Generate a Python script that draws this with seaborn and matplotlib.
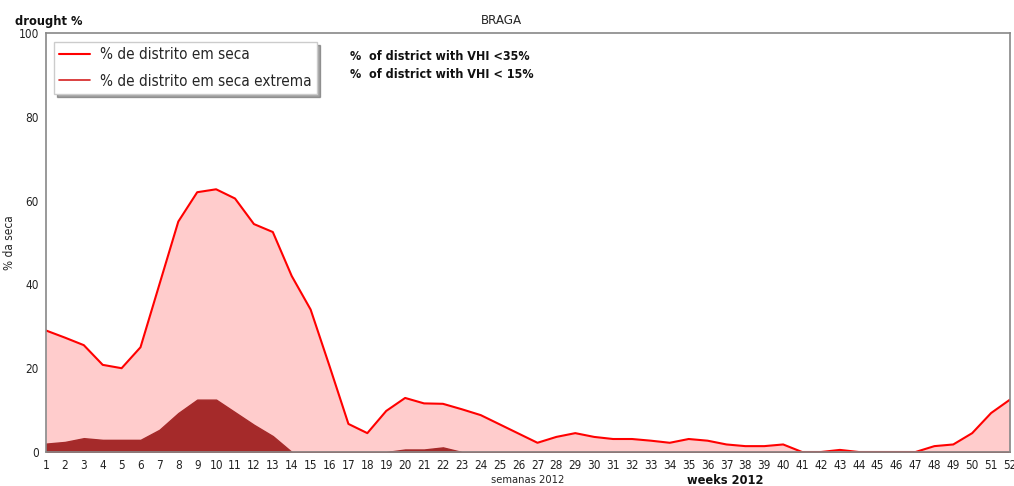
import numpy as np
import pandas as pd
import matplotlib
matplotlib.use("Agg")
import matplotlib.pyplot as plt
import seaborn as sns

weeks = list(range(1, 53))
drought = [29.0, 27.3, 25.5, 20.8, 20.0, 25.0, 40.0, 55.0, 62.0, 62.7,
           60.5, 54.4, 52.5, 42.0, 34.0, 20.5, 6.7, 4.5, 9.8, 12.9,
           11.6, 11.5, 10.2, 8.8, 6.6, 4.4, 2.2, 3.6, 4.5, 3.6,
           3.1, 3.1, 2.7, 2.2, 3.1, 2.7, 1.8, 1.4, 1.4, 1.8,
           0.0, 0.0, 0.5, 0.0, 0.0, 0.0, 0.0, 1.4, 1.8, 4.5,
           9.3, 12.5]
extreme = [2.0, 2.4, 3.3, 2.9, 2.9, 2.9, 5.3, 9.3, 12.5, 12.5,
           9.5, 6.5, 3.8, 0.0, 0.0, 0.0, 0.0, 0.0, 0.0, 0.6,
           0.6, 1.1, 0.0, 0.0, 0.0, 0.0, 0.0, 0.0, 0.0, 0.0,
           0.0, 0.0, 0.0, 0.0, 0.0, 0.0, 0.0, 0.0, 0.0, 0.0,
           0.0, 0.0, 0.0, 0.0, 0.0, 0.0, 0.0, 0.0, 0.0, 0.0,
           0.0, 0.0]
yticks = [0, 20, 40, 60, 80, 100]

df = pd.DataFrame({"week": weeks, "drought": drought, "extreme": extreme})

sns.set_style("white")
plt.rcParams["font.family"] = ["DejaVu Sans"]
plt.rcParams["font.stretch"] = "condensed"

fig = plt.figure(figsize=(10.14, 4.86), dpi=100)
ax = fig.add_axes([46 / 1014, 1 - 452 / 486, (1010 - 46) / 1014, (452 - 33) / 486])

ax.fill_between(df["week"], df["drought"], color="#ffcccc", lw=0)
ax.fill_between(df["week"], df["extreme"], color="#a52a2a", edgecolor="#a52a2a", lw=1)
sns.lineplot(data=df, x="week", y="drought", ax=ax, color="#ff0000", lw=1.5,
             legend=False)

ax.set_xlim(1, 52)
ax.set_ylim(0, 100)
ax.set_xticks(weeks)
ax.set_xticklabels([str(w) for w in weeks], fontsize=8.5)
ax.set_yticks(yticks)
ax.set_yticklabels([str(v) for v in yticks], fontsize=8.5)
ax.tick_params(axis="both", length=3, pad=2, colors="#222222")
for s in ax.spines.values():
    s.set_color("#888888")
    s.set_linewidth(1.2)

ax.set_xlabel("semanas 2012", fontsize=8, labelpad=2)
ax.set_ylabel("% da seca", fontsize=8.5, labelpad=2)
fig.text(501 / 1014, 1 - 21 / 486, "BRAGA", fontsize=9.5, ha="center", va="center")

handles = [plt.Line2D([], [], color="#ff0000", lw=1.5),
           plt.Line2D([], [], color="#d42020", lw=1.2)]
leg = ax.legend(handles, ["% de distrito em seca", "% de distrito em seca extrema"],
                loc="upper left", fontsize=11, shadow=True, fancybox=False,
                framealpha=1, edgecolor="#cccccc", borderpad=0.35,
                handlelength=2.0, handletextpad=0.65, labelspacing=0.75,
                borderaxespad=0, bbox_to_anchor=(8 / 964, 1 - 9 / 419))

bold = dict(fontweight="bold", va="center", ha="left", color="#111111")
fig.text(15 / 1014, 1 - 21 / 486, "drought %", fontsize=9.2, **bold)
fig.text(687 / 1014, 1 - 480 / 486, "weeks 2012", fontsize=9.2, **bold)
fig.text(350 / 1014, 1 - 56 / 486, "%  of district with VHI <35%", fontsize=9, **bold)
fig.text(350 / 1014, 1 - 74 / 486, "%  of district with VHI < 15%", fontsize=9, **bold)

fig.savefig("out.png", dpi=100)
